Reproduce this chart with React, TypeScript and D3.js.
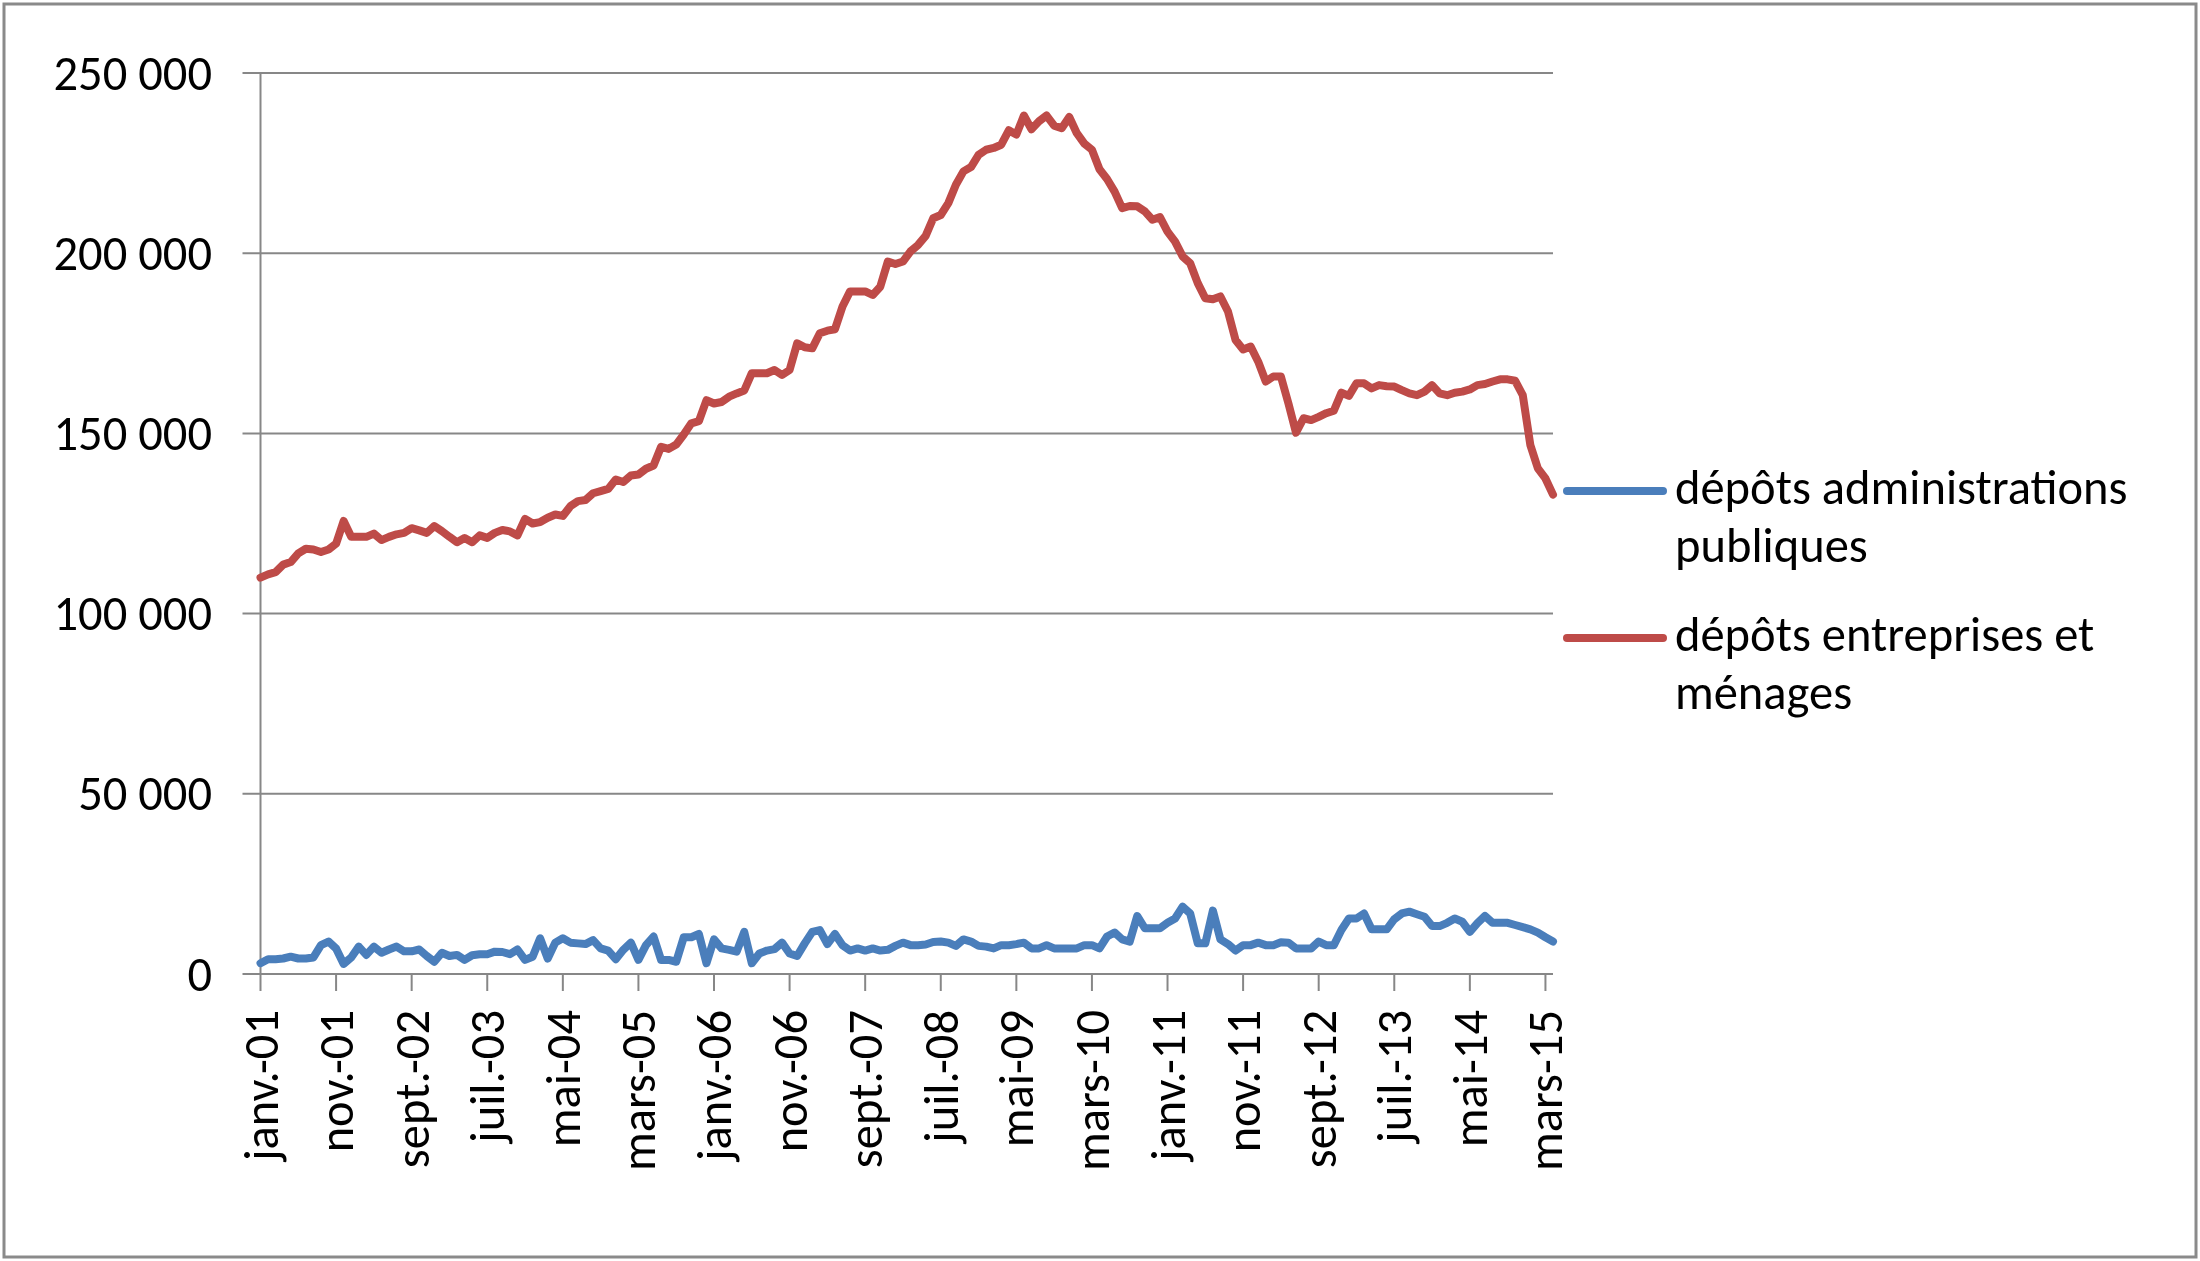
import React, { useRef, useEffect } from "react";
import * as d3 from "d3";

// monthly series, janv. 2001 -> avr. 2015
const publicDeposits = [
  3000, 4100, 4100, 4300, 4800, 4300, 4300, 4600, 8000, 9000, 7100, 2800,
  4600, 7600, 5300, 7600, 5900, 6800, 7600, 6300, 6300, 6800, 5000, 3400,
  5900, 5000, 5300, 3900, 5200, 5500, 5500, 6200, 6100, 5500, 6800, 3900,
  4800, 9900, 4300, 8700, 9900, 8700, 8500, 8300, 9400, 7100, 6500, 4100,
  6700, 8700, 3900, 8000, 10400, 3900, 3900, 3400, 10200, 10200, 11100, 3000,
  9600, 7100, 6700, 6200, 11700, 3000, 5700, 6500, 6900, 8700, 5700, 5000,
  8500, 11700, 12200, 8300, 11100, 8000, 6500, 7100, 6500, 7100, 6500, 6700,
  7800, 8700, 8000, 8000, 8200, 8900, 9000, 8700, 7800, 9600, 9000, 7800,
  7600, 7100, 8000, 8000, 8300, 8700, 7100, 7100, 8000, 7100, 7100, 7100,
  7100, 8000, 8000, 7100, 10400, 11500, 9600, 9000, 16100, 12700, 12700, 12700,
  14200, 15400, 18700, 16800, 8500, 8500, 17600, 9600, 8300, 6500, 8000, 8000,
  8700, 8000, 8000, 8800, 8700, 7100, 7100, 7100, 9000, 8000, 8000, 12200,
  15400, 15400, 16800, 12400, 12400, 12400, 15200, 16800, 17300, 16600, 15900, 13300,
  13300, 14200, 15400, 14500, 11700, 14100, 16100, 14200, 14200, 14200, 13600, 13000,
  12400, 11500, 10200, 9000,
];

const privateDeposits = [
  110000, 110900, 111500, 113600, 114300, 116700, 118000, 117800, 117100, 117800, 119400, 125700,
  121300, 121300, 121300, 122200, 120400, 121300, 122000, 122400, 123700, 123100, 122400, 124300,
  122900, 121300, 119800, 121000, 119800, 121700, 121000, 122400, 123200, 122800, 121700, 126300,
  125000, 125400, 126600, 127500, 127100, 129800, 131200, 131500, 133400, 134000, 134600, 137200,
  136500, 138300, 138600, 140200, 141100, 146300, 145700, 146900, 149700, 152800, 153400, 159200,
  158300, 158700, 160200, 161100, 161900, 166700, 166700, 166700, 167600, 166200, 167600, 175000,
  173900, 173600, 177800, 178500, 178900, 185200, 189400, 189400, 189400, 188400, 190700, 197700,
  197000, 197700, 200500, 202300, 204800, 209700, 210600, 213900, 219000, 222700, 223900, 227300,
  228700, 229200, 230100, 234100, 232900, 238200, 234400, 236600, 238200, 235400, 234700, 237800,
  233300, 230400, 228700, 223300, 220600, 217100, 212500, 213100, 213000, 211600, 209300, 210000,
  206000, 203200, 199100, 197200, 191700, 187500, 187200, 188000, 183800, 175900, 173300, 174100,
  169900, 164400, 165800, 165800, 158300, 150200, 154200, 153700, 154600, 155600, 156300, 161300,
  160400, 163900, 163900, 162500, 163400, 163100, 163000, 162000, 161100, 160600, 161600, 163400,
  161100, 160600, 161300, 161600, 162200, 163400, 163700, 164400, 165000, 165000, 164600, 160600,
  146800, 140300, 137500, 133000,
];

const xTickLabels = [
  "janv.-01", "nov.-01", "sept.-02", "juil.-03", "mai-04", "mars-05",
  "janv.-06", "nov.-06", "sept.-07", "juil.-08", "mai-09", "mars-10",
  "janv.-11", "nov.-11", "sept.-12", "juil.-13", "mai-14", "mars-15",
];
const xTickStep = 10; // one label every 10 months

const yTicks = [0, 50000, 100000, 150000, 200000, 250000];

const seriesNames = [
  ["dépôts administrations", "publiques"],
  ["dépôts entreprises et", "ménages"],
];
const seriesColors = ["#4a7ebb", "#be4b48"];

const W = 2200;
const H = 1261;
const FONT = "Carlito, Calibri, Lato, sans-serif";
const FS = 48.5;

export default function App() {
  const svgRef = useRef<SVGSVGElement>(null);

  useEffect(() => {
    const svg = d3.select(svgRef.current);
    svg.selectAll("*").remove();

    const left = 260.5;
    const top = 73;
    const bottom = 974;
    const right = 1553;

    const x = d3.scaleLinear().domain([0, privateDeposits.length - 1]).range([left, right]);
    const y = d3.scaleLinear().domain([0, 250000]).range([bottom, top]);

    const fr = d3.formatLocale({ decimal: ",", thousands: "\u00a0", grouping: [3], currency: ["", " €"] });
    const fmt = fr.format(",d");

    svg.append("rect")
      .attr("x", 4).attr("y", 4)
      .attr("width", W - 8).attr("height", H - 8)
      .attr("fill", "white")
      .attr("stroke", "#8a8a8a")
      .attr("stroke-width", 3);

    // gridlines + y labels
    const gy = svg.append("g");
    gy.selectAll("line")
      .data(yTicks)
      .enter()
      .append("line")
      .attr("x1", left - 18)
      .attr("x2", right)
      .attr("y1", (d) => y(d))
      .attr("y2", (d) => y(d))
      .attr("stroke", "#878787")
      .attr("stroke-width", 2);

    gy.selectAll("text")
      .data(yTicks)
      .enter()
      .append("text")
      .attr("x", 212)
      .attr("y", (d) => y(d) + 16.5)
      .attr("text-anchor", "end")
      .attr("font-family", FONT)
      .attr("font-size", FS)
      .attr("fill", "#000")
      .text((d) => fmt(d));

    // y axis line
    svg.append("line")
      .attr("x1", left).attr("x2", left)
      .attr("y1", top).attr("y2", bottom)
      .attr("stroke", "#878787")
      .attr("stroke-width", 2);

    // x ticks
    const gx = svg.append("g");
    gx.selectAll("line")
      .data(xTickLabels)
      .enter()
      .append("line")
      .attr("x1", (_, i) => x(i * xTickStep))
      .attr("x2", (_, i) => x(i * xTickStep))
      .attr("y1", bottom)
      .attr("y2", bottom + 17)
      .attr("stroke", "#878787")
      .attr("stroke-width", 2);

    gx.selectAll("text")
      .data(xTickLabels)
      .enter()
      .append("text")
      .attr("transform", (_, i) => `translate(${x(i * xTickStep) + 17},1010) rotate(-90)`)
      .attr("text-anchor", "end")
      .attr("font-family", FONT)
      .attr("font-size", FS)
      .attr("fill", "#000")
      .text((d) => d);

    // series
    const line = d3.line<number>()
      .x((_, i) => x(i))
      .y((d) => y(d));

    [publicDeposits, privateDeposits].forEach((values, k) => {
      svg.append("path")
        .datum(values)
        .attr("d", line)
        .attr("fill", "none")
        .attr("stroke", seriesColors[k])
        .attr("stroke-width", 8)
        .attr("stroke-linejoin", "round")
        .attr("stroke-linecap", "round");
    });

    // legend
    const legendY = [491, 638];
    seriesNames.forEach((lines, k) => {
      const g = svg.append("g").attr("transform", `translate(0,${legendY[k]})`);
      g.append("line")
        .attr("x1", 1567).attr("x2", 1663)
        .attr("y1", 0).attr("y2", 0)
        .attr("stroke", seriesColors[k])
        .attr("stroke-width", 8)
        .attr("stroke-linecap", "round");
      const t = g.append("text")
        .attr("font-family", FONT)
        .attr("font-size", FS)
        .attr("fill", "#000");
      lines.forEach((s, j) => {
        t.append("tspan")
          .attr("x", 1675)
          .attr("y", 13 + j * 58)
          .text(s);
      });
    });
  }, []);

  return (
    <svg
      ref={svgRef}
      width={W}
      height={H}
      style={{ position: "absolute", left: 0, top: 0, display: "block", background: "white" }}
    />
  );
}
